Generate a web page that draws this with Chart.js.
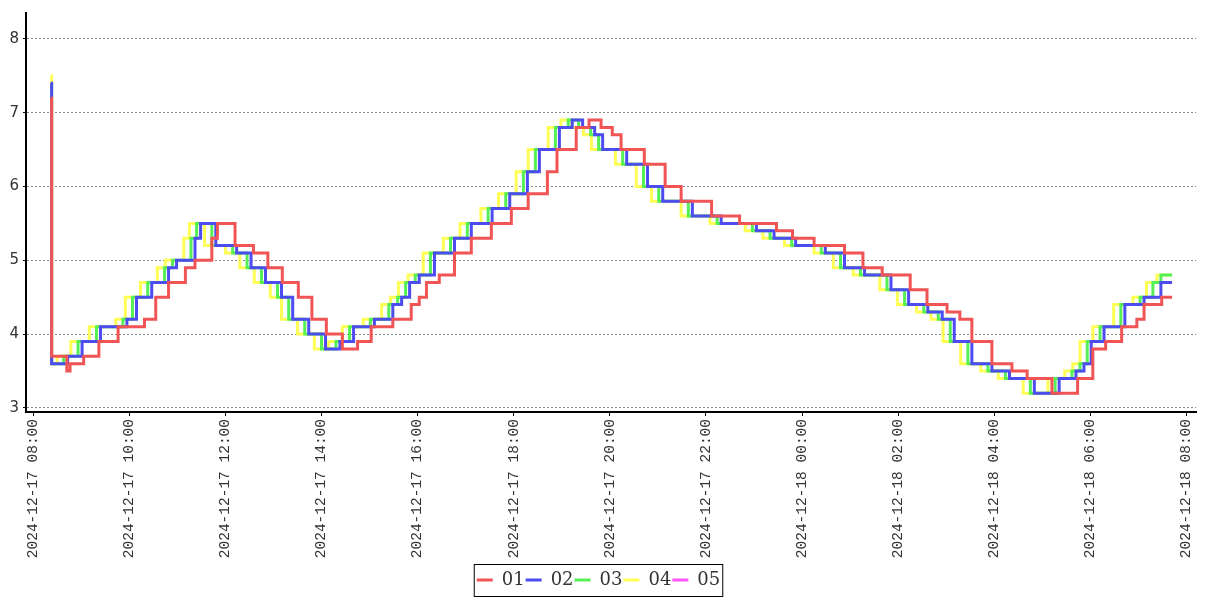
<!DOCTYPE html>
<html>
<head>
<meta charset="utf-8">
<script src="https://cdn.jsdelivr.net/npm/chart.js@4.4.1/dist/chart.umd.min.js"></script>
<style>
  html, body { margin: 0; padding: 0; background: #fff; }
</style>
</head>
<body>
<canvas id="chart" width="1207" height="600"></canvas>
<script>
// x values are minutes after 2024-12-17 08:00, each point = value held until the next point
const seriesNames = ["01", "02", "03", "04", "05"];
const seriesColors = ["#f05454", "#4c4cf0", "#55f055", "#ffff55", "#ff55ff"];

const t01 = [22, 23, 42, 46, 63, 82, 106, 139, 153, 169, 190, 202, 223, 230, 252, 275, 293, 311, 331, 348, 366, 386, 405, 422, 449, 472, 482, 491, 507, 526, 547, 572, 597, 618, 642, 654, 678, 694, 709, 723, 734, 763, 789, 809, 847, 882, 928, 948, 975, 1013, 1036, 1060, 1095, 1116, 1141, 1157, 1172, 1197, 1222, 1241, 1272, 1304, 1323, 1339, 1359, 1378, 1387, 1409, 1422];
const v01 = [7.2, 3.7, 3.5, 3.6, 3.7, 3.9, 4.1, 4.2, 4.5, 4.7, 4.9, 5.0, 5.3, 5.5, 5.2, 5.1, 4.9, 4.7, 4.5, 4.2, 4.0, 3.8, 3.9, 4.1, 4.2, 4.4, 4.5, 4.7, 4.8, 5.1, 5.3, 5.5, 5.7, 5.9, 6.2, 6.5, 6.8, 6.9, 6.8, 6.7, 6.5, 6.3, 6.0, 5.8, 5.6, 5.5, 5.4, 5.3, 5.2, 5.1, 4.9, 4.8, 4.6, 4.4, 4.3, 4.2, 3.9, 3.6, 3.5, 3.4, 3.2, 3.4, 3.8, 3.9, 4.1, 4.2, 4.4, 4.5, 4.5];

const t02 = [22, 23, 43, 61, 84, 117, 129, 148, 169, 179, 202, 209, 228, 254, 272, 290, 310, 324, 344, 365, 383, 400, 426, 449, 460, 470, 482, 501, 526, 547, 573, 595, 617, 632, 657, 673, 686, 701, 711, 741, 767, 786, 823, 859, 903, 925, 952, 989, 1013, 1038, 1071, 1093, 1117, 1135, 1150, 1172, 1197, 1219, 1250, 1281, 1302, 1312, 1321, 1337, 1363, 1387, 1408, 1422];
const v02 = [7.4, 3.6, 3.7, 3.9, 4.1, 4.2, 4.5, 4.7, 4.9, 5.0, 5.3, 5.5, 5.2, 5.1, 4.9, 4.7, 4.5, 4.2, 4.0, 3.8, 3.9, 4.1, 4.2, 4.4, 4.5, 4.7, 4.8, 5.1, 5.3, 5.5, 5.7, 5.9, 6.2, 6.5, 6.8, 6.9, 6.8, 6.7, 6.5, 6.3, 6.0, 5.8, 5.6, 5.5, 5.4, 5.3, 5.2, 5.1, 4.9, 4.8, 4.6, 4.4, 4.3, 4.2, 3.9, 3.6, 3.5, 3.4, 3.2, 3.4, 3.5, 3.6, 3.9, 4.1, 4.4, 4.5, 4.7, 4.7];

const t03 = [22, 23, 38, 56, 79, 112, 124, 143, 164, 174, 197, 204, 223, 249, 267, 285, 305, 319, 339, 360, 378, 395, 421, 444, 455, 465, 477, 496, 521, 542, 568, 590, 612, 627, 652, 668, 681, 696, 706, 736, 762, 781, 818, 854, 898, 920, 947, 984, 1008, 1033, 1066, 1088, 1112, 1130, 1145, 1167, 1192, 1214, 1245, 1276, 1297, 1307, 1316, 1332, 1358, 1382, 1398, 1408, 1422];
const v03 = [7.4, 3.6, 3.7, 3.9, 4.1, 4.2, 4.5, 4.7, 4.9, 5.0, 5.3, 5.5, 5.2, 5.1, 4.9, 4.7, 4.5, 4.2, 4.0, 3.8, 3.9, 4.1, 4.2, 4.4, 4.5, 4.7, 4.8, 5.1, 5.3, 5.5, 5.7, 5.9, 6.2, 6.5, 6.8, 6.9, 6.8, 6.7, 6.5, 6.3, 6.0, 5.8, 5.6, 5.5, 5.4, 5.3, 5.2, 5.1, 4.9, 4.8, 4.6, 4.4, 4.3, 4.2, 3.9, 3.6, 3.5, 3.4, 3.2, 3.4, 3.5, 3.6, 3.9, 4.1, 4.4, 4.5, 4.7, 4.8, 4.8];

const t04 = [22, 23, 30, 47, 70, 103, 115, 134, 155, 165, 188, 195, 214, 240, 258, 276, 296, 310, 330, 351, 369, 386, 412, 435, 446, 456, 468, 487, 512, 533, 559, 581, 603, 618, 643, 659, 672, 687, 697, 727, 753, 772, 809, 845, 889, 911, 938, 975, 999, 1024, 1057, 1079, 1103, 1121, 1136, 1158, 1183, 1205, 1236, 1267, 1288, 1298, 1307, 1323, 1349, 1373, 1390, 1403, 1422];
const v04 = [7.5, 3.6, 3.7, 3.9, 4.1, 4.2, 4.5, 4.7, 4.9, 5.0, 5.3, 5.5, 5.2, 5.1, 4.9, 4.7, 4.5, 4.2, 4.0, 3.8, 3.9, 4.1, 4.2, 4.4, 4.5, 4.7, 4.8, 5.1, 5.3, 5.5, 5.7, 5.9, 6.2, 6.5, 6.8, 6.9, 6.8, 6.7, 6.5, 6.3, 6.0, 5.8, 5.6, 5.5, 5.4, 5.3, 5.2, 5.1, 4.9, 4.8, 4.6, 4.4, 4.3, 4.2, 3.9, 3.6, 3.5, 3.4, 3.2, 3.4, 3.5, 3.6, 3.9, 4.1, 4.4, 4.5, 4.7, 4.8, 4.8];

const t05 = [];
const v05 = [];

const xTicks = [0, 120, 240, 360, 480, 600, 720, 840, 960, 1080, 1200, 1320, 1440];
const yTicks = [3, 4, 5, 6, 7, 8];

const startTime = new Date(2024, 11, 17, 8, 0);
function tickLabel(min) {
  const d = new Date(startTime.getTime() + min * 60000);
  const p = (n) => String(n).padStart(2, "0");
  return d.getFullYear() + "-" + p(d.getMonth() + 1) + "-" + p(d.getDate()) + " " + p(d.getHours()) + ":" + p(d.getMinutes());
}

const allT = [t01, t02, t03, t04, t05];
const allV = [v01, v02, v03, v04, v05];

const datasets = seriesNames.map((name, i) => ({
  label: name,
  data: allT[i].map((t, j) => ({ x: t, y: allV[i][j] })),
  borderColor: seriesColors[i],
  backgroundColor: seriesColors[i],
  borderWidth: 3,
  pointRadius: 0,
  pointStyle: "line",
  stepped: true,
  fill: false,
}));

// frame around the legend like the original
const legendFrame = {
  id: "legendFrame",
  afterDraw(chart) {
    const lg = chart.legend;
    if (!lg || !lg.legendHitBoxes || !lg.legendHitBoxes.length) return;
    const boxes = lg.legendHitBoxes;
    const left = Math.min(...boxes.map((b) => b.left)) - 2.5;
    const right = Math.max(...boxes.map((b) => b.left + b.width)) + 2.5;
    const mid = boxes[0].top + boxes[0].height / 2;
    const top = Math.round(mid) - 15.5;
    const bottom = Math.round(mid) + 16.5;
    const ctx = chart.ctx;
    ctx.save();
    ctx.strokeStyle = "#000";
    ctx.lineWidth = 1;
    ctx.strokeRect(left, top, right - left, bottom - top);
    ctx.restore();
  },
};

new Chart(document.getElementById("chart"), {
  type: "line",
  data: { datasets: datasets },
  plugins: [legendFrame],
  options: {
    responsive: false,
    animation: false,
    layout: { padding: { left: 0, right: 10, top: 10, bottom: 1 } },
    plugins: {
      tooltip: { enabled: false },
      legend: {
        position: "bottom",
        labels: {
          font: { family: "DejaVu Serif", size: 18 },
          color: "#333",
          usePointStyle: true,
          pointStyleWidth: 16,
          boxHeight: 16,
          padding: 1,
        },
      },
    },
    scales: {
      x: {
        type: "linear",
        min: -9,
        max: 1452,
        afterBuildTicks: (scale) => {
          scale.ticks = xTicks.map((v) => ({ value: v }));
        },
        afterFit: (scale) => {
          scale.height = 158;
        },
        ticks: {
          autoSkip: false,
          minRotation: 90,
          maxRotation: 90,
          padding: 3,
          color: "#333",
          font: { family: "Liberation Mono", size: 14.5 },
          callback: (v) => tickLabel(v),
        },
        grid: { drawOnChartArea: false, drawTicks: true, tickLength: 4, color: "#000" },
        border: { color: "#000", width: 2 },
      },
      y: {
        min: 2.945,
        max: 8.35,
        afterBuildTicks: (scale) => {
          scale.ticks = yTicks.map((v) => ({ value: v }));
        },
        afterFit: (scale) => {
          scale.width = 26;
        },
        ticks: {
          padding: 4,
          color: "#333",
          font: { family: "DejaVu Sans", size: 15 },
        },
        grid: { color: "#888", tickColor: "#000", tickLength: 3, lineWidth: 1 },
        border: { color: "#000", width: 2, dash: [2, 2] },
      },
    },
  },
});
</script>
</body>
</html>
